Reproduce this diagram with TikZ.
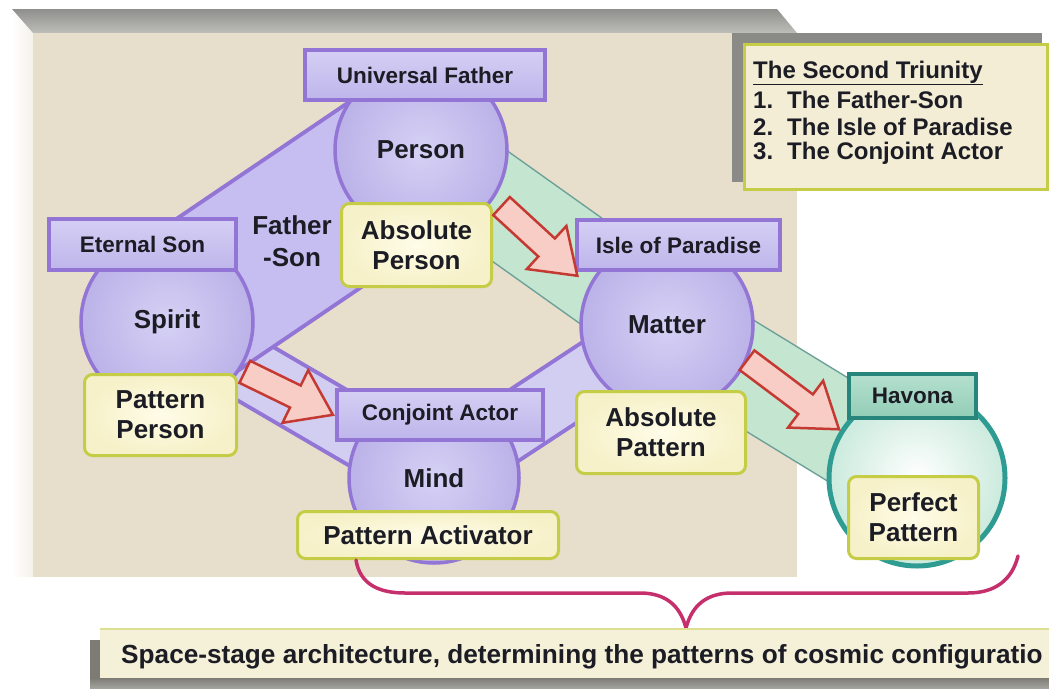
\documentclass[tikz,border=0pt]{standalone}
\usepackage{fontspec}
\setmainfont{Liberation Sans}
\usetikzlibrary{shapes.arrows,calc}

\definecolor{ink}{HTML}{1C1C24}
\definecolor{panelbg}{HTML}{E7DFCB}
\definecolor{panelside}{HTML}{F4F1E9}
\definecolor{bevelhi}{HTML}{BDBDB9}
\definecolor{bevello}{HTML}{8F8F8C}
\definecolor{lavtop}{HTML}{D5CFF4}
\definecolor{lavbot}{HTML}{BEB5EA}
\definecolor{lavline}{HTML}{9275D5}
\definecolor{ballin}{HTML}{D6D1F5}
\definecolor{ballout}{HTML}{BBB2E8}
\definecolor{bandlav}{HTML}{C6BEF0}
\definecolor{bandlite}{HTML}{D2CEF2}
\definecolor{creamfill}{HTML}{FFFCE8}
\definecolor{creamedge}{HTML}{F6F1C8}
\definecolor{creamline}{HTML}{C5CC46}
\definecolor{mint}{HTML}{C4E5D0}
\definecolor{mintline}{HTML}{6C9F98}
\definecolor{teal}{HTML}{2E9C92}
\definecolor{tealtop}{HTML}{B5E0CF}
\definecolor{tealbot}{HTML}{92CDB6}
\definecolor{ringout}{HTML}{CBEADD}
\definecolor{arrowline}{HTML}{C43A33}
\definecolor{arrowfill}{HTML}{F8CDC6}
\definecolor{bracecol}{HTML}{C42F6C}
\definecolor{shadowgray}{HTML}{8A8A86}
\definecolor{notefill}{HTML}{F3EDD6}
\definecolor{footfill}{HTML}{F5F1D9}
\definecolor{footbar}{HTML}{7C7B74}

\newcommand\lblfnt{\fontsize{22.5}{26}\selectfont\bfseries}
\newcommand\circfnt{\fontsize{26}{30}\selectfont\bfseries}
\newcommand\listfnt{\fontsize{24}{27}\selectfont\bfseries}
\newcommand\footfnt{\fontsize{26.2}{30}\selectfont\bfseries}

\tikzset{
  lbl/.style={rectangle, draw=lavline, line width=4pt, top color=lavtop, bottom color=lavbot,
    inner sep=0pt, font=\lblfnt, text=ink},
  ball/.style={circle, draw=lavline, line width=3.5pt, inner color=ballin, outer color=ballout,
    inner sep=0pt, font=\circfnt, text=ink},
  cream/.style={rectangle, draw=creamline, line width=3pt, inner color=creamfill, outer color=creamedge,
    rounded corners=8pt, inner sep=0pt, font=\circfnt, text=ink, align=center},
  wideband/.style={line width=#1, line cap=butt},
  blockarrow/.style={single arrow, draw=arrowline, line width=2.5pt, fill=arrowfill,
    inner sep=11pt, single arrow head extend=17pt, single arrow tip angle=70,
    minimum height=#1},
  notetext/.style={anchor=west, inner sep=0pt, font=\listfnt, text=ink},
}

\begin{document}
\begin{tikzpicture}[x=1pt,y=-1pt]
\useasboundingbox (0,0) rectangle (1049,688);
\fill[white] (0,0) rectangle (1049,688);

% ---- raised backdrop panel
\shade[left color=white, right color=panelside] (12,9) -- (33,33) -- (33,577) -- (12,577) -- cycle;
\shade[top color=bevello, bottom color=bevelhi] (12,9) -- (777,9) -- (797,33) -- (33,33) -- cycle;
\fill[panelbg] (33,33) rectangle (797,577);

% ---- note box with its shadow
\fill[shadowgray] (732,33) rectangle (1042,182);
\node[draw=creamline, line width=3pt, fill=notefill, minimum width=303pt, minimum height=145pt,
  inner sep=0pt, anchor=north west] (note) at (743,43) {};
\node[notetext] (t0) at (753,73) {\underline{The Second Triunity}};
\node[notetext] (t1) at (753,100) {\makebox[34pt][l]{1.}The Father-Son};
\node[notetext] (t2) at (753,127) {\makebox[34pt][l]{2.}The Isle of Paradise};
\node[notetext] (t3) at (753,153) {\makebox[34pt][l]{3.}The Conjoint Actor};

% ---- centres of the spheres
\coordinate (cPerson) at (421,150);
\coordinate (cSpirit) at (167,322);
\coordinate (cMatter) at (667,325);
\coordinate (cMind)   at (434,478);
\coordinate (cHavona) at (917,478);

% ---- green band Person -> Matter -> Havona
\draw[wideband=100pt, draw=mintline, line join=round] (cPerson) -- (cMatter) -- (cHavona);
\draw[wideband=97pt, draw=mint, line join=round] (cPerson) -- (cMatter) -- (cHavona);

% ---- purple bands
\draw[wideband=68pt, draw=lavline] (cSpirit) -- (cMind);
\draw[wideband=60pt, draw=bandlite] (cSpirit) -- (cMind);
\draw[wideband=68pt, draw=lavline] (cMind) -- (cMatter);
\draw[wideband=60pt, draw=bandlite] (cMind) -- (cMatter);
\draw[wideband=164pt, draw=lavline] (cPerson) -- (cSpirit);
\draw[wideband=156pt, draw=bandlav] (cPerson) -- (cSpirit);

\node[font=\fontsize{26}{32}\selectfont\bfseries, text=ink, align=center, inner sep=0pt] (fs) at (292,241) {Father\\-Son};

% ---- spheres
\node[ball, minimum size=172pt] (person) at (cPerson) {Person};
\node[ball, minimum size=172pt] (spirit) at (cSpirit) {Spirit};
\node[ball, minimum size=172pt] (matter) at (cMatter) {Matter};
\node[ball, minimum size=170pt] (mind)   at (cMind)   {Mind};
\node[circle, draw=teal, line width=5pt, inner color=white, outer color=ringout,
  minimum size=176pt, inner sep=0pt] (havring) at (cHavona) {};

% ---- title boxes
\node[lbl, minimum width=240pt, minimum height=50pt] (uf)   at (425,75)    {Universal Father};
\node[lbl, minimum width=187pt, minimum height=51pt] (es)   at (142.5,244.5) {Eternal Son};
\node[lbl, minimum width=203pt, minimum height=50pt] (isle) at (678.5,245) {Isle of Paradise};
\node[lbl, minimum width=206pt, minimum height=50pt] (ca)   at (440,415)   {Conjoint Actor};
\node[rectangle, draw=teal!85!black, line width=4pt, top color=tealtop, bottom color=tealbot,
  minimum width=127pt, minimum height=44pt, inner sep=0pt, font=\lblfnt, text=ink] (hav) at (912.5,396) {Havona};

% ---- pattern boxes
\node[cream, minimum width=150pt, minimum height=83pt] (absperson) at (416.5,245) {Absolute\\Person};
\node[cream, minimum width=152pt, minimum height=81pt] (patperson) at (160.5,415) {Pattern\\Person};
\node[cream, minimum width=169pt, minimum height=82pt] (abspat)    at (661,432.5) {Absolute\\Pattern};
\node[cream, minimum width=261pt, minimum height=47pt] (patact)    at (428,535)   {Pattern Activator};
\node[cream, minimum width=130pt, minimum height=82pt] (perfpat)   at (913.5,517.5) {Perfect\\Pattern};

% ---- flow arrows
\node[blockarrow=103pt, rotate=-42.6] (arrA) at (533,235) {};
\node[blockarrow=98pt,  rotate=-26]   (arrB) at (281,389.5) {};
\node[blockarrow=115pt, rotate=-36.9] (arrC) at (786,389.5) {};

% ---- brace gathering the patterns
\coordinate (braceL) at (356,560);
\coordinate (braceM) at (686,628);
\coordinate (braceR) at (1018,556);
\draw[bracecol, line width=3.5pt, line cap=round, line join=round]
  (braceL) .. controls (360,585) and (380,593) .. (405,593) -- (640,593)
  .. controls (665,593) and (680,605) .. (braceM)
  .. controls (692,605) and (707,593) .. (732,593) -- (968,593)
  .. controls (995,593) and (1012,580) .. (braceR);

% ---- caption bar
\fill[footbar] (90,640) rectangle (100,688);
\shade[top color=footbar, bottom color=footbar!70!white] (90,678) rectangle (1049,688);
\fill[footfill] (100,628) rectangle (1049,678);
\draw[creamline!50!footfill, line width=1.5pt] (100,629) -- (1049,629);
\node[anchor=west, inner sep=0pt, font=\footfnt, text=ink] (caption) at (121,657)
  {Space-stage architecture, determining the patterns of cosmic configuratio};
\end{tikzpicture}
\end{document}
